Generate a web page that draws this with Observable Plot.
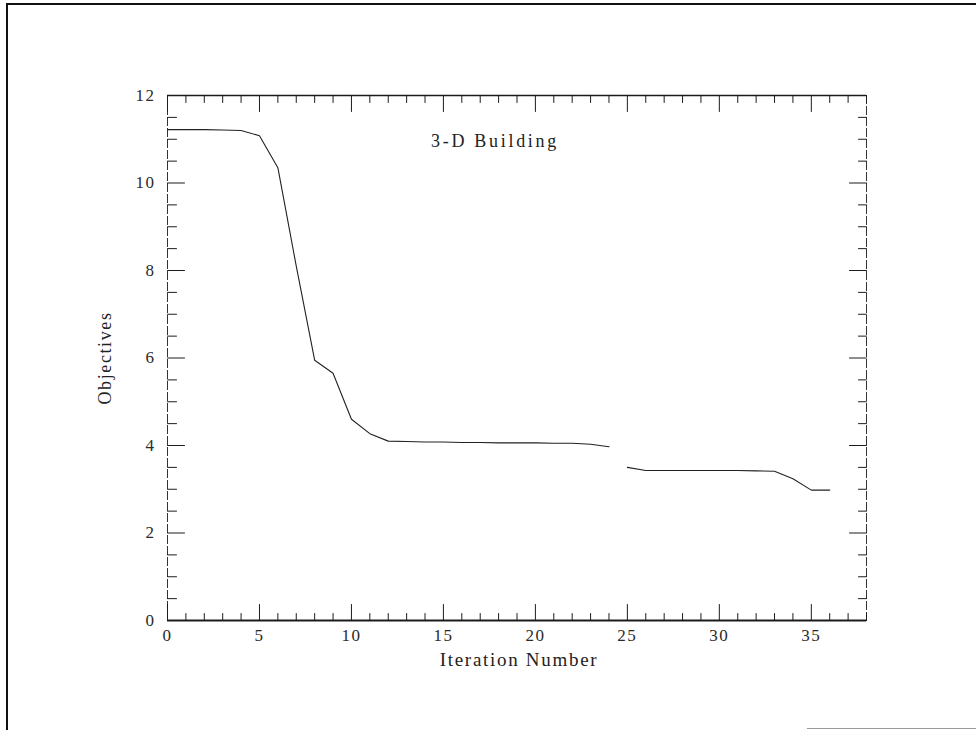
<!DOCTYPE html>
<html>
<head>
<meta charset="utf-8">
<script src="https://cdn.jsdelivr.net/npm/d3@7"></script>
<script src="https://cdn.jsdelivr.net/npm/@observablehq/plot@0.6"></script>
<style>
  html, body { margin: 0; padding: 0; background: #fff; }
  #page { position: relative; width: 976px; height: 730px; overflow: hidden; background: #fff; }
  #edge { position: absolute; left: 6px; top: 3px; width: 970px; height: 727px; border-top: 2px solid #111; border-left: 2px solid #111; box-sizing: border-box; }
  #edge2 { position: absolute; left: 807px; top: 728px; width: 169px; height: 1px; background: #9a9a9a; }
  #chart { position: absolute; left: 0; top: 0; }
  #chart svg text { letter-spacing: 1.5px; }
  #chart svg .ttl text { letter-spacing: 2.7px; }
  #chart svg .xlab text { letter-spacing: 1.7px; }
  #chart svg .ylab text { letter-spacing: 1.6px; }
</style>
</head>
<body>
<div id="page"><div id="edge"></div><div id="edge2"></div><div id="chart"></div></div>
<script>
// ---- data ----
const iterationsA = [0, 1, 2, 3, 4, 5, 6, 7, 8, 9, 10, 11, 12, 13, 14, 15, 16, 17, 18, 19, 20, 21, 22, 23, 24];
const objectivesA = [11.22, 11.22, 11.22, 11.21, 11.2, 11.08, 10.35, 8.1, 5.95, 5.65, 4.6, 4.27, 4.1, 4.09, 4.08, 4.08, 4.07, 4.07, 4.06, 4.06, 4.06, 4.05, 4.05, 4.03, 3.97];
const iterationsB = [25, 26, 27, 28, 29, 30, 31, 32, 33, 34, 35, 36];
const objectivesB = [3.5, 3.43, 3.43, 3.43, 3.43, 3.43, 3.43, 3.42, 3.41, 3.24, 2.98, 2.98];

const xDomain = [0, 38];
const yDomain = [0, 12];
const xMajorTicks = [0, 5, 10, 15, 20, 25, 30, 35];
const xMinorTicks = [0, 1, 2, 3, 4, 6, 7, 8, 9, 11, 12, 13, 14, 16, 17, 18, 19, 21, 22, 23, 24, 26, 27, 28, 29, 31, 32, 33, 34, 36, 37, 38];
const yMajorTicks = [0, 2, 4, 6, 8, 10, 12];
const yMinorTicks = [0.5, 1, 1.5, 2.5, 3, 3.5, 4.5, 5, 5.5, 6.5, 7, 7.5, 8.5, 9, 9.5, 10.5, 11, 11.5];

const titleText = "3-D Building";
const xLabelText = "Iteration Number";
const yLabelText = "Objectives";

// ---- build ----
const seriesA = iterationsA.map((x, i) => ({iteration: x, objective: objectivesA[i], run: "A"}));
const seriesB = iterationsB.map((x, i) => ({iteration: x, objective: objectivesB[i], run: "B"}));
const series = seriesA.concat(seriesB);

const tickShape = {draw(context, l) { context.moveTo(0, 0); context.lineTo(0, -l); }};
const ink = "#1c1c1c";
const font = "Liberation Serif, Times New Roman, serif";

function ticks(data, axis, len, rotate) {
  const isX = axis === "x";
  return Plot.vector(data, {
    x: isX ? (d) => d : (rotate === 90 ? xDomain[0] : xDomain[1]),
    y: isX ? (rotate === 0 ? yDomain[0] : yDomain[1]) : (d) => d,
    length: len, rotate, anchor: "start", shape: tickShape,
    stroke: ink, strokeWidth: 1
  });
}

const chart = Plot.plot({
  width: 976,
  height: 730,
  marginLeft: 167,
  marginRight: 110,
  marginTop: 95,
  marginBottom: 110,
  x: {domain: xDomain},
  y: {domain: yDomain},
  style: {fontFamily: font, background: "transparent", color: ink},
  marks: [
    // frame
    Plot.ruleY([yDomain[0]], {stroke: ink, strokeWidth: 1.8}),
    Plot.ruleY([yDomain[1]], {stroke: ink, strokeWidth: 1.4}),
    Plot.ruleX(xDomain, {stroke: "#333", strokeWidth: 1, strokeDasharray: "9,2"}),
    // inward ticks
    ticks(xMinorTicks, "x", 7, 0),
    ticks(xMajorTicks, "x", 16, 0),
    ticks(xMinorTicks, "x", 7, 180),
    ticks(xMajorTicks, "x", 16, 180),
    ticks(yMinorTicks, "y", 9, 90),
    ticks(yMajorTicks, "y", 17, 90),
    ticks(yMinorTicks, "y", 8, -90),
    ticks(yMajorTicks, "y", 17, -90),
    // tick labels
    Plot.axisX(xMajorTicks, {anchor: "bottom", tickSize: 0, tickPadding: 8, fontSize: 17, label: null, fill: "#2a2a2a"}),
    Plot.axisY(yMajorTicks, {anchor: "left", tickSize: 0, tickPadding: 12, fontSize: 17, label: null, fill: "#2a2a2a"}),
    // data
    Plot.line(series, {x: "iteration", y: "objective", z: "run", stroke: "#222", strokeWidth: 1.1}),
    // texts
    Plot.text([titleText], {frameAnchor: "top", lineAnchor: "middle", dx: -22, dy: 46, text: (d) => d, fontSize: 18, fill: "#222", className: "ttl"}),
    Plot.text([xLabelText], {frameAnchor: "bottom", lineAnchor: "middle", dx: 2, dy: 39, text: (d) => d, fontSize: 19, fill: "#222", className: "xlab"}),
    Plot.text([yLabelText], {frameAnchor: "left", lineAnchor: "middle", textAnchor: "middle", dx: -62, rotate: -90, text: (d) => d, fontSize: 18, fill: "#222", className: "ylab"})
  ]
});
document.getElementById("chart").appendChild(chart);
</script>
</body>
</html>
